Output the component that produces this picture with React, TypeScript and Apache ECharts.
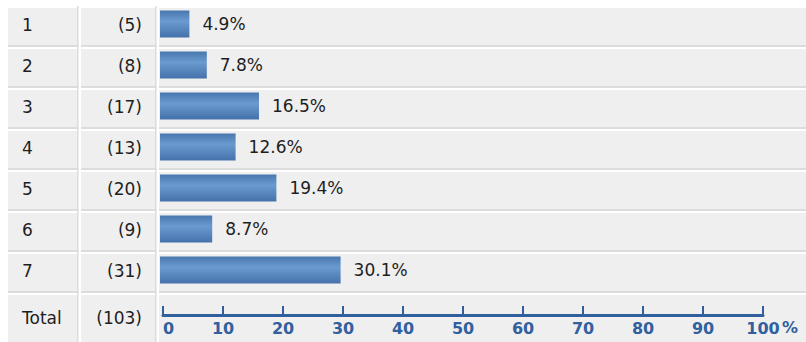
import React, { useEffect, useRef } from "react";
import * as echarts from "echarts";

const categories = ["1", "2", "3", "4", "5", "6", "7"];
const counts = [5, 8, 17, 13, 20, 9, 31];
const percents = [4.9, 7.8, 16.5, 12.6, 19.4, 8.7, 30.1];
const totalLabel = "Total";
const totalCount = 103;
const axisTicks = [0, 10, 20, 30, 40, 50, 60, 70, 80, 90, 100];

const W = 806;
const H = 342;
const PITCH = 41;
const TOP = 8;
const CELL_H = 37;
const CELL_BG = "#efefef";
const LINE = "#dcdcdc";
const BLUE = "#30609e";
const TEXT = "#1e1e1e";
const FONT = "'DejaVu Sans', Verdana, sans-serif";

const cols = [
  { x: 8, w: 69 },
  { x: 81, w: 74 },
  { x: 159, w: W - 159 },
];

export default function App() {
  const ref = useRef<HTMLDivElement>(null);

  useEffect(() => {
    if (!ref.current) return;
    const chart = echarts.init(ref.current, undefined, { renderer: "svg" });

    const graphics: any[] = [];
    const nRows = categories.length;
    for (let i = 0; i <= nRows; i++) {
      const y = TOP + PITCH * i;
      const h = i < nRows ? CELL_H : H - y;
      cols.forEach((c) => {
        graphics.push({
          type: "rect",
          z: 0,
          silent: true,
          shape: { x: c.x, y, width: c.w, height: h },
          style: { fill: CELL_BG },
        });
        graphics.push({
          type: "rect",
          z: 0,
          silent: true,
          shape: { x: c.x + c.w, y: y - 2, width: 1.5, height: h + 4 },
          style: { fill: LINE },
        });
        if (i < nRows) {
          graphics.push({
            type: "rect",
            z: 0,
            silent: true,
            shape: { x: c.x, y: y + h, width: c.w + 1.5, height: 2 },
            style: { fill: LINE },
          });
        }
      });
      const label = i < nRows ? categories[i] : totalLabel;
      const cnt = i < nRows ? counts[i] : totalCount;
      const cy = i < nRows ? 25 + PITCH * i : 318;
      graphics.push({
        type: "text",
        z: 1,
        x: 22,
        y: cy,
        style: {
          text: label,
          fill: TEXT,
          font: `17px ${FONT}`,
          textAlign: "left",
          textVerticalAlign: "middle",
        },
      });
      graphics.push({
        type: "text",
        z: 1,
        x: 142,
        y: cy,
        style: {
          text: `(${cnt})`,
          fill: TEXT,
          font: `17px ${FONT}`,
          textAlign: "right",
          textVerticalAlign: "middle",
        },
      });
    }
    graphics.push({
      type: "text",
      z: 1,
      x: 782,
      y: 327.5,
      style: {
        text: "%",
        fill: BLUE,
        font: `bold 16px ${FONT}`,
        textAlign: "left",
        textVerticalAlign: "middle",
      },
    });

    chart.setOption({
      animation: false,
      graphic: { elements: graphics },
      grid: [
        { left: 160, top: 3.5, width: 600, height: PITCH * nRows },
        { left: 163, top: 300, width: 600, height: 15 },
      ],
      xAxis: [
        { type: "value", gridIndex: 0, min: 0, max: 100, show: false },
        {
          type: "value",
          gridIndex: 1,
          min: 0,
          max: 100,
          interval: 10,
          position: "bottom",
          splitLine: { show: false },
          axisLine: { show: true, lineStyle: { color: BLUE, width: 3 } },
          axisTick: {
            show: true,
            inside: true,
            length: 9,
            lineStyle: { color: BLUE, width: 2 },
          },
          axisLabel: {
            show: true,
            color: BLUE,
            fontFamily: FONT,
            fontWeight: "bold",
            fontSize: 16,
            margin: 5,
            alignMinLabel: "left",
            customValues: axisTicks,
          },
        },
      ],
      yAxis: [
        {
          type: "category",
          gridIndex: 0,
          data: categories,
          inverse: true,
          show: false,
        },
        { type: "value", gridIndex: 1, show: false, min: 0, max: 1 },
      ],
      series: [
        {
          type: "bar",
          xAxisIndex: 0,
          yAxisIndex: 0,
          z: 5,
          barWidth: 27,
          data: percents,
          itemStyle: {
            color: new echarts.graphic.LinearGradient(0, 0, 0, 1, [
              { offset: 0, color: "#4877ae" },
              { offset: 0.4, color: "#6a9bd0" },
              { offset: 1, color: "#4571aa" },
            ]),
          },
          label: {
            show: true,
            position: "right",
            distance: 13,
            color: TEXT,
            fontFamily: FONT,
            fontSize: 17,
            formatter: (p: any) => `${p.value}%`,
          },
        },
        {
          type: "scatter",
          xAxisIndex: 1,
          yAxisIndex: 1,
          data: [],
        },
      ],
    });

    return () => chart.dispose();
  }, []);

  return (
    <div
      ref={ref}
      style={{
        position: "fixed",
        left: 0,
        top: 0,
        width: W,
        height: H,
        background: "#ffffff",
      }}
    />
  );
}
